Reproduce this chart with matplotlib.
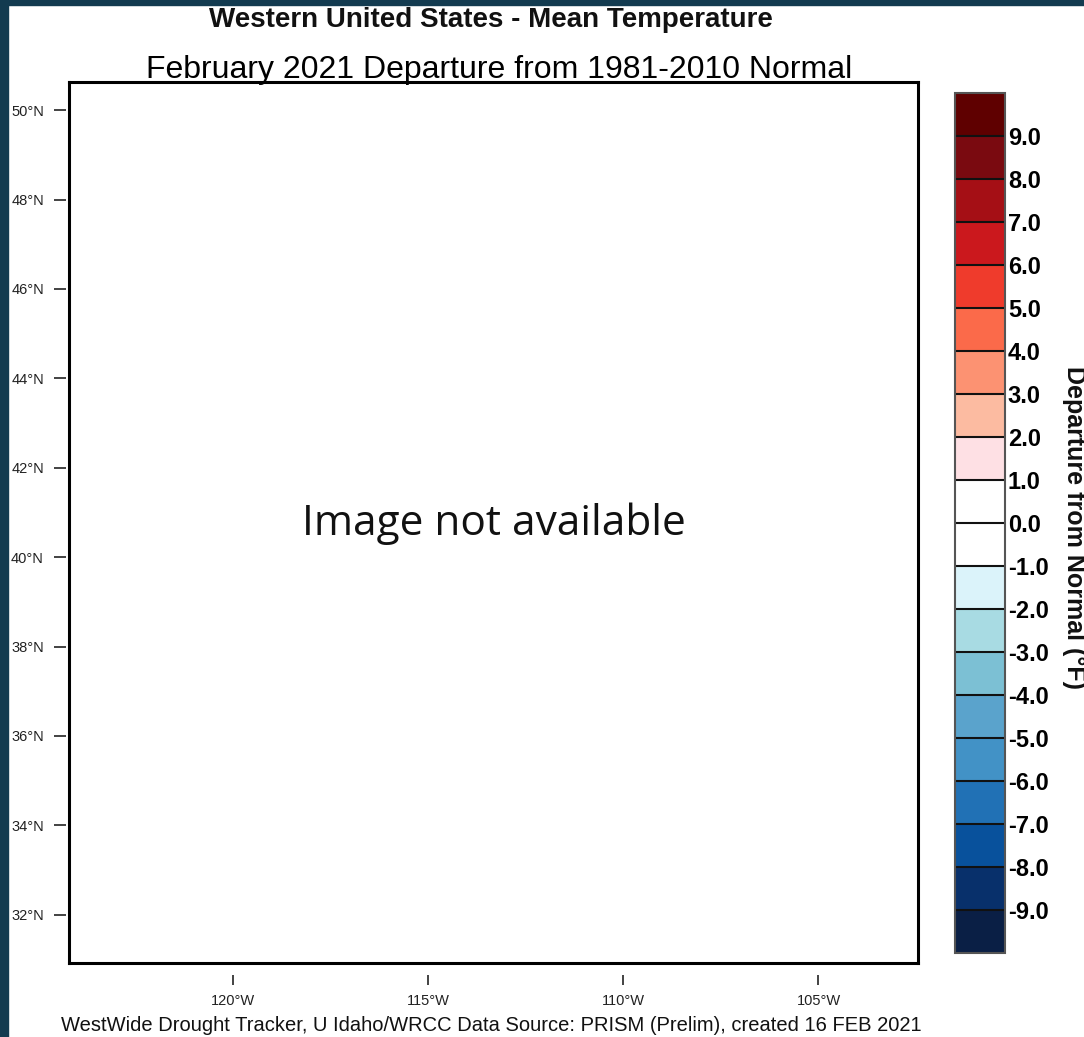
import numpy as np
import matplotlib
matplotlib.use("Agg")
import matplotlib.pyplot as plt
from matplotlib.colors import ListedColormap, BoundaryNorm
from matplotlib.patches import Rectangle
import matplotlib.colorbar as mcolorbar

# ---- data ----
title = "Western United States - Mean Temperature"
subtitle = "February 2021 Departure from 1981-2010 Normal"
footer = "WestWide Drought Tracker, U Idaho/WRCC Data Source: PRISM (Prelim), created 16 FEB 2021"
placeholder = "Image not available"
cbar_label = "Departure from Normal (\u00b0F)"

lon_range = [-124.2, -102.45]
lat_range = [30.92, 50.63]
lon_ticks = [-120, -115, -110, -105]
lon_labels = ["120\u00b0W", "115\u00b0W", "110\u00b0W", "105\u00b0W"]
lat_ticks = [32, 34, 36, 38, 40, 42, 44, 46, 48, 50]
lat_labels = ["32\u00b0N", "34\u00b0N", "36\u00b0N", "38\u00b0N", "40\u00b0N",
              "42\u00b0N", "44\u00b0N", "46\u00b0N", "48\u00b0N", "50\u00b0N"]

level_bounds = list(range(-10, 11))
level_ticks = list(range(-9, 10))
level_colors = [  # from lowest (< -9) to highest (> 9)
    "#0a1f45", "#08306b", "#08519c", "#2171b5", "#4292c6",
    "#5aa3cc", "#7cc0d4", "#a8dbe3", "#dbf3fa", "#ffffff",
    "#ffffff", "#fee0e4", "#fcbba1", "#fc9272", "#fb6a4a",
    "#ef3b2c", "#cb181d", "#a50f15", "#7a0a10", "#5f0000",
]

plt.rcParams['font.family'] = ['Liberation Sans', 'DejaVu Sans']

W, H = 1084, 1037
fig = plt.figure(figsize=(W / 100, H / 100), dpi=100)
fig.patch.set_facecolor("white")

# dark frame (left and top)
frame_col = "#133b50"
fig.add_artist(Rectangle((0, 0), 8 / W, 1, transform=fig.transFigure, color=frame_col, zorder=10))
fig.add_artist(Rectangle((0, 1 - 5 / H), 1, 5 / H, transform=fig.transFigure, color=frame_col, zorder=10))

# main map axes
L, R, T, B = 69, 918, 82, 963
ax = fig.add_axes([L / W, 1 - B / H, (R - L) / W, (B - T) / H])
ax.set_xlim(lon_range)
ax.set_ylim(lat_range)
for s in ax.spines.values():
    s.set_linewidth(2.2)
ax.set_xticks([])
ax.set_yticks([])
fig.text(494 / W, 1 - 524 / H, placeholder, ha="center", va="center",
         fontsize=30.5, family=["Open Sans", "DejaVu Sans"], color="#111111")

# detached tick marks via secondary axes
secx = ax.secondary_xaxis(-12 / (B - T))
secx.set_xticks(lon_ticks, lon_labels)
secx.spines['bottom'].set_visible(False)
secx.tick_params(axis='x', direction='out', length=7.5, width=1.2, pad=6,
                 labelsize=10.5, colors="#222222")

secy = ax.secondary_yaxis(-3.5 / (R - L))
secy.set_yticks(lat_ticks, lat_labels)
secy.spines['left'].set_visible(False)
secy.tick_params(axis='y', direction='out', length=8.5, width=1.2, pad=7,
                 labelsize=10.5, colors="#222222")

# titles
fig.text(491 / W, 1 - 27 / H, title, ha="center", va="baseline", fontsize=20,
         fontweight="bold", color="#111111")
fig.text(499 / W, 1 - 78 / H, subtitle, ha="center", va="baseline", fontsize=23,
         color="black")
fig.text(491 / W, 1 - 1031 / H, footer, ha="center", va="baseline", fontsize=14.5,
         color="#111111")

# colorbar
cax = fig.add_axes([955 / W, 1 - 953 / H, 50 / W, (953 - 93) / H])
cmap = ListedColormap(level_colors)
norm = BoundaryNorm(level_bounds, cmap.N)
cb = mcolorbar.ColorbarBase(cax, cmap=cmap, norm=norm, boundaries=level_bounds,
                            ticks=level_ticks, drawedges=True, orientation="vertical")
cb.minorticks_off()
cb.dividers.set_color("#111111")
cb.dividers.set_linewidth(1.5)
cb.outline.set_edgecolor("#555555")
cb.outline.set_linewidth(1.5)
cax.set_yticklabels([f"{v:.1f}" for v in level_ticks])
cax.tick_params(axis='y', which='both', length=0, pad=2, labelsize=17)
for lab in cax.get_yticklabels():
    lab.set_fontweight("bold")
fig.text(1074 / W, 1 - 527 / H, cbar_label, rotation=-90, ha="center", va="center",
         fontsize=18, fontweight="bold", color="#111111")

fig.savefig("out.png", dpi=100)
